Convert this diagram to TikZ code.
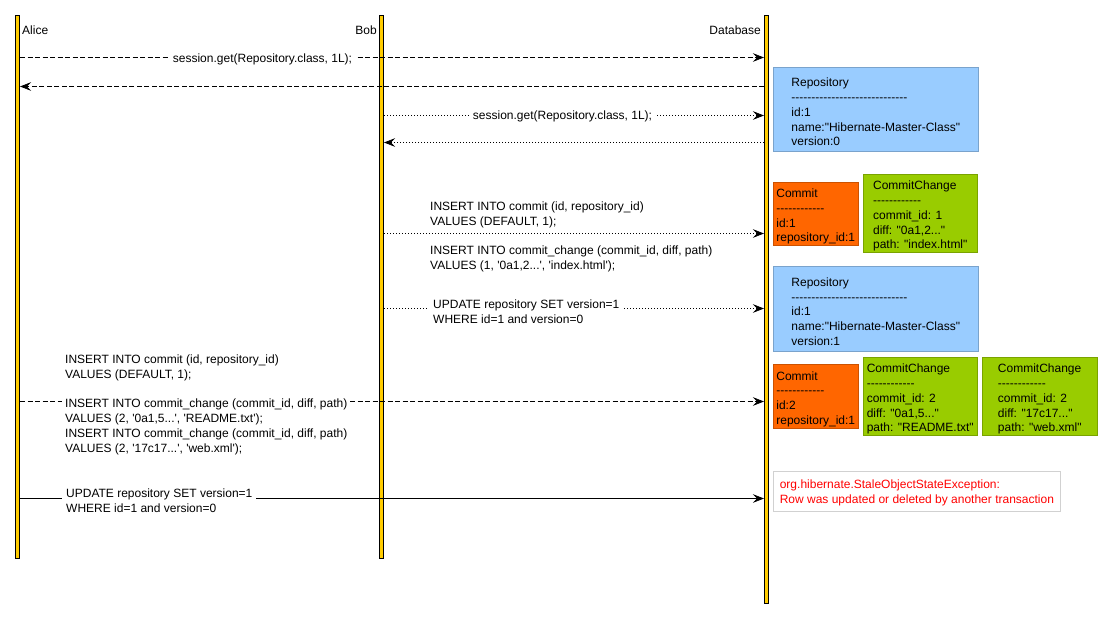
\documentclass[tikz,border=0pt]{standalone}
\usepackage{fontspec}
\setmainfont{Liberation Sans}[Ligatures=TeXOff]
\usetikzlibrary{arrows.meta}
\definecolor{lifeyellow}{HTML}{FFCC00}
\definecolor{repblue}{HTML}{99CCFF}
\definecolor{comorange}{HTML}{FF6600}
\definecolor{ccgreen}{HTML}{99CC00}
\definecolor{errred}{HTML}{FF0000}
\newcommand\boxstrut{\rule{0pt}{14.4pt}}
\newcommand\errstrut{\rule{0pt}{12pt}}
\begin{document}
\begin{tikzpicture}[x=1pt,y=-1pt,
  every node/.style={font=\fontsize{12}{14.8}\selectfont},
  lifeline/.style={draw=black, line width=0.8pt, fill=lifeyellow, minimum width=4.2pt, inner sep=0pt, anchor=north},
  tip/.style={-{Stealth[length=11pt,width=8.5pt,inset=4pt]}},
  dashmsg/.style={draw, line width=0.7pt, dash pattern=on 5pt off 2.5pt, tip},
  dotmsg/.style={draw, line width=0.7pt, dash pattern=on 0.8pt off 2.2pt, tip},
  solidmsg/.style={draw, line width=0.7pt, tip},
  msglabel/.style={fill=white, inner xsep=3pt, inner ysep=1pt, align=left},
  plainlabel/.style={inner sep=0pt, align=left},
  entity/.style={fill=#1, draw=#1!80!black, line width=0.5pt, align=left, inner sep=0pt, anchor=north west},
  errbox/.style={fill=white, draw=black!18, line width=0.8pt, align=left, inner sep=0pt, anchor=north west, text=errred}
]
\useasboundingbox (0,0) rectangle (1113,618);

% lifelines
\node[lifeline, minimum height=542.6pt] (A) at (17.5,15.4) {};
\node[lifeline, minimum height=542.6pt] (B) at (381.5,15.4) {};
\node[lifeline, minimum height=587.6pt] (D) at (766.5,15.4) {};

\node[plainlabel, anchor=base west] (lA) at (22,34.5) {Alice};
\node[plainlabel, anchor=base east] (lB) at (377,34.5) {Bob};
\node[plainlabel, anchor=base east] (lD) at (761,34.5) {Database};

% message heights
\coordinate (y1) at (0,57.5);
\coordinate (y2) at (0,86.5);
\coordinate (y3) at (0,115.5);
\coordinate (y4) at (0,142.5);
\coordinate (y5) at (0,233.5);
\coordinate (y6) at (0,308.5);
\coordinate (y7) at (0,401.5);
\coordinate (y8) at (0,498.5);

% messages
\draw[dashmsg] (A.east |- y1) -- (D.west |- y1);
\node[msglabel] (t1) at (262.5,59) {session.get(Repository.class, 1L);};
\draw[dashmsg] (D.west |- y2) -- (A.east |- y2);

\draw[dotmsg] (B.east |- y3) -- (D.west |- y3);
\node[msglabel] (t3) at (562.5,116.5) {session.get(Repository.class, 1L);};
\draw[dotmsg] (D.west |- y4) -- (B.east |- y4);

\draw[dotmsg] (B.east |- y5) -- (D.west |- y5);
\node[plainlabel, anchor=west] (t5) at (430,237) {INSERT INTO commit (id, repository\_id)\\VALUES (DEFAULT, 1);\\\mbox{}\\INSERT INTO commit\_change (commit\_id, diff, path)\\VALUES (1, '0a1,2...', 'index.html');};

\draw[dotmsg] (B.east |- y6) -- (D.west |- y6);
\node[msglabel, anchor=west, inner xsep=5pt] (t6) at (428,311.5) {UPDATE repository SET version=1\\WHERE id=1 and version=0};

\draw[dashmsg] (A.east |- y7) -- (D.west |- y7);
\node[msglabel, anchor=west] (t7) at (62,404.5) {INSERT INTO commit (id, repository\_id)\\VALUES (DEFAULT, 1);\\\mbox{}\\INSERT INTO commit\_change (commit\_id, diff, path)\\VALUES (2, '0a1,5...', 'README.txt');\\INSERT INTO commit\_change (commit\_id, diff, path)\\VALUES (2, '17c17...', 'web.xml');};

\draw[solidmsg] (A.east |- y8) -- (D.west |- y8);
\node[msglabel, anchor=west, inner xsep=4pt] (t8) at (62,501) {UPDATE repository SET version=1\\WHERE id=1 and version=0};

% entity boxes
\node[entity=repblue, minimum width=205pt, minimum height=84pt] (r1) at (773,67) {\boxstrut Repository\\-----------------------------\\id:1\\name:"Hibernate-Master-Class"\\version:0};
\node[entity=comorange, minimum width=85pt, minimum height=63pt] (c1) at (773,182) {\boxstrut Commit\\------------\\id:1\\repository\_id:1};
\node[entity=ccgreen, minimum width=114pt, minimum height=78pt] (cc1) at (863,174) {\boxstrut CommitChange\\------------\\commit\_id: 1\\diff: "0a1,2..."\\path: "index.html"};
\node[entity=repblue, minimum width=205pt, minimum height=85pt] (r2) at (773,266) {\boxstrut Repository\\-----------------------------\\id:1\\name:"Hibernate-Master-Class"\\version:1};
\node[entity=comorange, minimum width=85pt, minimum height=64pt] (c2) at (773,364) {\boxstrut Commit\\------------\\id:2\\repository\_id:1};
\node[entity=ccgreen, minimum width=114pt, minimum height=78pt] (cc2) at (863,357) {\boxstrut CommitChange\\------------\\commit\_id: 2\\diff: "0a1,5..."\\path: "README.txt"};
\node[entity=ccgreen, minimum width=115pt, minimum height=78pt] (cc3) at (982,357) {\boxstrut CommitChange\\------------\\commit\_id: 2\\diff: "17c17..."\\path: "web.xml"};
\node[errbox, minimum width=287pt, minimum height=40pt] (err) at (773,471) {\errstrut org.hibernate.StaleObjectStateException:\\Row was updated or deleted by another transaction};
\end{tikzpicture}
\end{document}
